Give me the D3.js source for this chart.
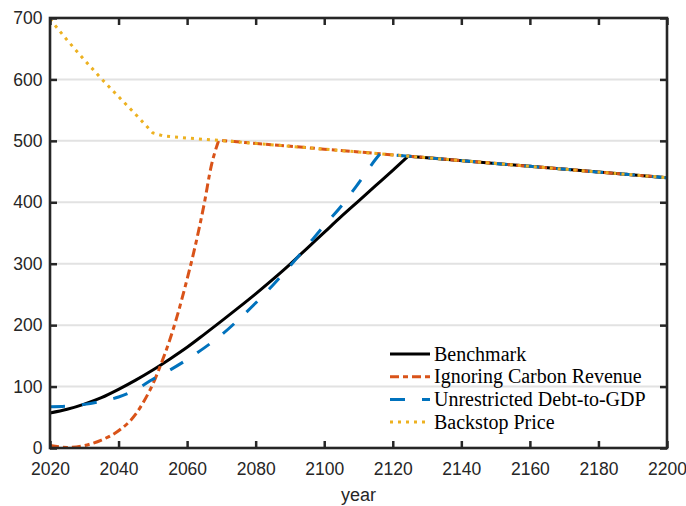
<!DOCTYPE html>
<html>
<head>
<meta charset="utf-8">
<script src="https://cdn.jsdelivr.net/npm/d3@7"></script>
<style>
  html, body { margin: 0; padding: 0; background: #fff; }
  svg { display: block; }
</style>
</head>
<body>
<div id="chart"></div>
<script>
const width = 686;
const height = 506;
const margin = { top: 18, right: 19, bottom: 58, left: 50 };

// data
const backstopYears = [2020, 2025, 2030, 2035, 2040, 2045, 2050, 2053, 2060, 2070, 2100, 2130, 2160, 2200];
const backstopPrice = [698, 664, 632, 601, 572, 543, 513, 508, 504.5, 500.5, 486.5, 472.5, 458.5, 440];

const benchmarkYears = [2020, 2025, 2030, 2035, 2040, 2045, 2050, 2055, 2060, 2065, 2070, 2075, 2080, 2085, 2090, 2095, 2100, 2105, 2110, 2115, 2120, 2124.5];
const benchmarkPrice = [57, 63, 71.5, 82, 95.5, 110.5, 127, 145, 164, 185, 206.5, 228.5, 251, 274.5, 299, 325, 351, 377, 402, 427, 452, 475];

const ignoringYears = [2020, 2025, 2030, 2035, 2040, 2045, 2048, 2050, 2052, 2055, 2057, 2060, 2062, 2065, 2067, 2069.2];
const ignoringPrice = [4, 1, 4, 13, 28, 55, 82, 104, 131, 177, 213, 275, 320, 398, 458, 500.5];

const unrestrictedYears = [2020, 2025, 2030, 2035, 2040, 2045, 2050, 2055, 2060, 2065, 2070, 2075, 2080, 2085, 2090, 2095, 2100, 2105, 2110, 2115, 2116.3];
const unrestrictedPrice = [67, 68, 71, 76, 83, 95, 112, 127, 144, 163, 184, 209, 236, 265, 296, 329, 362, 394, 431, 470, 479];

const xTicks = d3.range(2020, 2201, 20);
const yTicks = d3.range(0, 701, 100);

const zip = (xs, ys) => xs.map((x, i) => [x, ys[i]]);
const backstop = zip(backstopYears, backstopPrice);

const x = d3.scaleLinear().domain([2020, 2200]).range([margin.left, width - margin.right]);
const y = d3.scaleLinear().domain([0, 700]).range([height - margin.bottom, margin.top]);

const smooth = d3.line().x(d => x(d[0])).y(d => y(d[1])).curve(d3.curveMonotoneX);
// smooth path up to the point where it hits the backstop, then straight along it
const pathWithTail = (pts) => {
  const last = pts[pts.length - 1][0];
  const tail = backstop.filter(p => p[0] > last);
  return smooth(pts) + tail.map(p => `L${x(p[0])},${y(p[1])}`).join("");
};

const series = [
  { name: "Benchmark", d: pathWithTail(zip(benchmarkYears, benchmarkPrice)), color: "#000000", dash: null },
  { name: "Ignoring Carbon Revenue", d: pathWithTail(zip(ignoringYears, ignoringPrice)), color: "#D95319", dash: "9,4,5,4" },
  { name: "Unrestricted Debt-to-GDP", d: pathWithTail(zip(unrestrictedYears, unrestrictedPrice)), color: "#0072BD", dash: "15,17" },
  { name: "Backstop Price", d: d3.line().x(d => x(d[0])).y(d => y(d[1]))(backstop), color: "#EDB120", dash: "3,5" }
];

const svg = d3.select("#chart").append("svg")
  .attr("width", width)
  .attr("height", height);

// grid
svg.append("g")
  .selectAll("line")
  .data(yTicks.filter(t => t > 0 && t < 700))
  .join("line")
  .attr("x1", x.range()[0])
  .attr("x2", x.range()[1])
  .attr("y1", d => y(d))
  .attr("y2", d => y(d))
  .attr("stroke", "#e2e2e2")
  .attr("stroke-width", 2);

// lines
svg.append("g")
  .selectAll("path")
  .data(series)
  .join("path")
  .attr("d", d => d.d)
  .attr("fill", "none")
  .attr("stroke", d => d.color)
  .attr("stroke-width", 3)
  .attr("stroke-dasharray", d => d.dash)
  .attr("stroke-linejoin", "round");

// axes, ticks pointing inward
const axisColor = "#262626";
const styleAxis = (g) => {
  g.select(".domain").remove();
  g.selectAll(".tick line").attr("stroke", axisColor).attr("stroke-width", 2.5);
  g.selectAll(".tick text")
    .attr("fill", axisColor)
    .attr("font-family", "'Liberation Sans', Arial, sans-serif")
    .attr("font-size", 17.5);
};

svg.append("g")
  .attr("transform", `translate(0,${y(0)})`)
  .call(d3.axisBottom(x).tickValues(xTicks).tickFormat(d3.format("d")).tickSizeInner(-7).tickSizeOuter(0).tickPadding(14.5))
  .call(styleAxis);

svg.append("g")
  .attr("transform", `translate(0,${y(700)})`)
  .call(d3.axisTop(x).tickValues(xTicks).tickFormat("").tickSizeInner(-7).tickSizeOuter(0))
  .call(styleAxis);

svg.append("g")
  .attr("transform", `translate(${x(2020)},0)`)
  .call(d3.axisLeft(y).tickValues(yTicks).tickSizeInner(-7).tickSizeOuter(0).tickPadding(7.5))
  .call(styleAxis);

svg.append("g")
  .attr("transform", `translate(${x(2200)},0)`)
  .call(d3.axisRight(y).tickValues(yTicks).tickFormat("").tickSizeInner(-7).tickSizeOuter(0))
  .call(styleAxis);

// box
svg.append("rect")
  .attr("x", x(2020))
  .attr("y", y(700))
  .attr("width", x(2200) - x(2020))
  .attr("height", y(0) - y(700))
  .attr("fill", "none")
  .attr("stroke", axisColor)
  .attr("stroke-width", 2.6);

svg.append("text")
  .attr("x", (x(2020) + x(2200)) / 2)
  .attr("y", 501)
  .attr("text-anchor", "middle")
  .attr("fill", axisColor)
  .attr("font-family", "'Liberation Sans', Arial, sans-serif")
  .attr("font-size", 18)
  .text("year");

// legend
const legend = svg.append("g").attr("transform", "translate(390,354)");
const rows = legend.selectAll("g")
  .data(series)
  .join("g")
  .attr("transform", (d, i) => `translate(0,${i * 22.7})`);

rows.append("line")
  .attr("x1", 0)
  .attr("x2", 40)
  .attr("stroke", d => d.color)
  .attr("stroke-width", 3)
  .attr("stroke-dasharray", d => d.dash);

rows.append("text")
  .attr("x", 44)
  .attr("y", 6.5)
  .attr("fill", "#000")
  .attr("font-family", "'Liberation Serif', 'Times New Roman', serif")
  .attr("font-size", 20)
  .text(d => d.name);
</script>
</body>
</html>
